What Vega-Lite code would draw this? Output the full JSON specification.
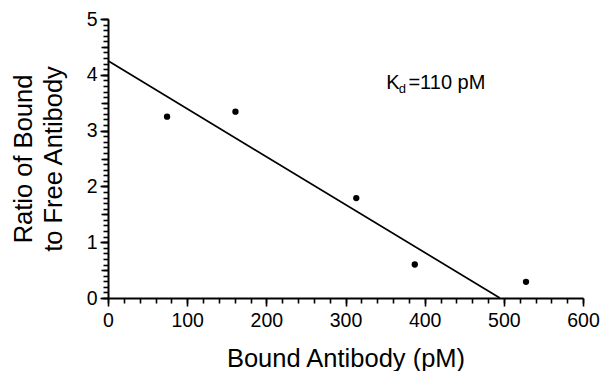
{
  "$schema": "https://vega.github.io/schema/vega-lite/v6.json",
  "width": 475,
  "height": 279,
  "padding": {"left": 11, "top": 9, "right": 5, "bottom": 0},
  "config": {"view": {"stroke": null}},
  "resolve": {"axis": {"x": "independent", "y": "independent"}},
  "layer": [
    {
      "data": {"values": [
        {"bound": 0, "ratio": 4.25},
        {"bound": 495, "ratio": 0}
      ]},
      "mark": {"type": "line", "color": "black", "strokeWidth": 1.7},
      "encoding": {
        "x": {
          "field": "bound", "type": "quantitative",
          "scale": {"domain": [0, 600]},
          "axis": {
            "orient": "bottom",
            "grid": false,
            "tickCount": 6,
            "tickSize": 8,
            "tickWidth": 1.6,
            "tickColor": "black",
            "domainColor": "black",
            "domainWidth": 2,
            "labelFont": "Liberation Sans",
            "labelFontSize": 19.5,
            "labelColor": "black",
            "labelPadding": 5,
            "labelFlush": false,
            "title": "Bound Antibody (pM)",
            "titleFont": "Liberation Sans",
            "titleFontSize": 25.5,
            "titleFontWeight": "normal",
            "titleColor": "black",
            "titleAlign": "center",
            "titleBaseline": "alphabetic",
            "titleX": 237.5,
            "titleY": 68.4
          }
        },
        "y": {
          "field": "ratio", "type": "quantitative",
          "scale": {"domain": [0, 5]},
          "axis": {
            "orient": "left",
            "grid": false,
            "tickCount": 5,
            "tickSize": 8,
            "tickWidth": 1.6,
            "tickColor": "black",
            "domainColor": "black",
            "domainWidth": 2,
            "labelFont": "Liberation Sans",
            "labelFontSize": 19.5,
            "labelColor": "black",
            "labelPadding": 3,
            "labelFlush": false,
            "title": ["Ratio of Bound", "to Free Antibody"],
            "titleFont": "Liberation Sans",
            "titleFontSize": 25.5,
            "titleFontWeight": "normal",
            "titleColor": "black",
            "titleLineHeight": 30,
            "titleAlign": "center",
            "titleBaseline": "alphabetic",
            "titleAngle": -90,
            "titleX": -76.6,
            "titleY": 139.5
          }
        }
      }
    },
    {
      "data": {"values": [
        {"bound": 74.6, "ratio": 3.25},
        {"bound": 161, "ratio": 3.34},
        {"bound": 313.6, "ratio": 1.79},
        {"bound": 387.5, "ratio": 0.6},
        {"bound": 528, "ratio": 0.29}
      ]},
      "mark": {"type": "point", "filled": true, "color": "black", "opacity": 1, "size": 40},
      "encoding": {
        "x": {
          "field": "bound", "type": "quantitative",
          "axis": {
            "orient": "bottom",
            "grid": false,
            "title": null,
            "labels": false,
            "domain": false,
            "tickCount": 30,
            "tickSize": 5,
            "tickWidth": 1.6,
            "tickColor": "black"
          }
        },
        "y": {
          "field": "ratio", "type": "quantitative",
          "axis": {
            "orient": "left",
            "grid": false,
            "title": null,
            "labels": false,
            "domain": false,
            "tickCount": 50,
            "tickSize": 5,
            "tickWidth": 1.6,
            "tickColor": "black"
          }
        }
      }
    },
    {
      "data": {"values": [{"bound": 351.5, "ratio": 3.75, "label": "K"}]},
      "mark": {"type": "text", "align": "left", "baseline": "alphabetic", "font": "Liberation Sans", "fontSize": 20, "color": "black"},
      "encoding": {
        "x": {"field": "bound", "type": "quantitative", "axis": null},
        "y": {
          "field": "ratio", "type": "quantitative",
          "axis": {
            "orient": "left",
            "grid": false,
            "title": null,
            "labels": false,
            "domain": false,
            "tickCount": 10,
            "tickSize": 7,
            "tickWidth": 1.6,
            "tickColor": "black"
          }
        },
        "text": {"field": "label"}
      }
    },
    {
      "data": {"values": [{"bound": 351.5, "ratio": 3.75, "label": "d"}]},
      "mark": {"type": "text", "align": "left", "baseline": "alphabetic", "font": "Liberation Sans", "fontSize": 13, "color": "black", "dx": 12.5, "dy": 4},
      "encoding": {
        "x": {"field": "bound", "type": "quantitative", "axis": null},
        "y": {"field": "ratio", "type": "quantitative", "axis": null},
        "text": {"field": "label"}
      }
    },
    {
      "data": {"values": [{"bound": 379.5, "ratio": 3.75, "label": "=110 pM"}]},
      "mark": {"type": "text", "align": "left", "baseline": "alphabetic", "font": "Liberation Sans", "fontSize": 20, "color": "black"},
      "encoding": {
        "x": {"field": "bound", "type": "quantitative", "axis": null},
        "y": {"field": "ratio", "type": "quantitative", "axis": null},
        "text": {"field": "label"}
      }
    }
  ]
}
